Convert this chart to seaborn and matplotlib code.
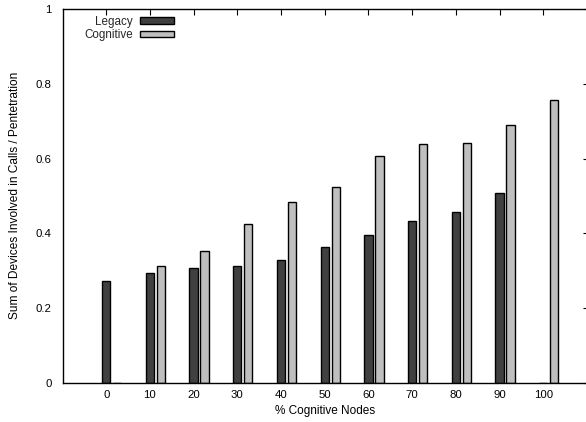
import matplotlib
matplotlib.use("Agg")
import matplotlib.pyplot as plt
import seaborn as sns
import pandas as pd
from matplotlib.ticker import FuncFormatter, MultipleLocator

# Share of cognitive nodes in the network (%)
pct_cognitive = [0, 10, 20, 30, 40, 50, 60, 70, 80, 90, 100]
# Sum of devices involved in calls divided by penetration
legacy = [0.273, 0.295, 0.308, 0.313, 0.330, 0.364, 0.397, 0.432, 0.456, 0.507, 0.0]
cognitive = [0.0, 0.313, 0.354, 0.425, 0.485, 0.525, 0.608, 0.638, 0.641, 0.690, 0.757]
series_names = ["Legacy", "Cognitive"]
series_colors = ["#404040", "#bfbfbf"]

# horizontal shift of the second series relative to the first
pair_offset = 2.5
bar_width = 0.19  # fraction of the 10-unit category spacing

sns.set_theme(style="white")
plt.rcParams["font.family"] = ["Liberation Sans", "DejaVu Sans"]

fig = plt.figure(figsize=(5.86, 4.22), dpi=100)
W, H = 586, 422
left_px, right_px, top_px, bottom_px = 62.5, 588.5, 9, 383
ax = fig.add_axes([left_px / W, (H - bottom_px) / H,
                   (right_px - left_px) / W, (bottom_px - top_px) / H])

df_leg = pd.DataFrame({"pos": pct_cognitive, "value": legacy})
df_cog = pd.DataFrame({"pos": [p + pair_offset for p in pct_cognitive], "value": cognitive})

for df, name, color in zip([df_leg, df_cog], series_names, series_colors):
    sns.barplot(data=df, x="pos", y="value", native_scale=True, width=bar_width,
                color=color, edgecolor="black", linewidth=1.0, saturation=1,
                label=name, ax=ax, errorbar=None)

ax.set_xlim(-10, 110 + 1.5 / 4.37)
ax.set_ylim(0, 1)
ax.set_xticks(pct_cognitive)
ax.xaxis.set_major_formatter(FuncFormatter(lambda v, p: f"{v:g}"))
ax.yaxis.set_major_locator(MultipleLocator(0.2))
ax.yaxis.set_major_formatter(FuncFormatter(lambda v, p: f"{v:g}"))

for s in ax.spines.values():
    s.set_visible(True)
    s.set_color("black")
    s.set_linewidth(1.0)

ax.tick_params(axis="both", which="major", direction="in", length=4.5, width=0.8,
               colors="black", labelsize=8.2, top=True, right=True)
ax.tick_params(axis="y", pad=8)
ax.tick_params(axis="x", pad=5)

span_x = right_px - left_px
span_y = bottom_px - top_px
ax.set_xlabel("% Cognitive Nodes", fontsize=8.5, color="black")
ax.xaxis.set_label_coords((325 - left_px) / span_x, (bottom_px - 411) / span_y)
ax.xaxis.label.set_va("center")
ax.set_ylabel("Sum of Devices Involved in Calls / Pentetration", fontsize=8.55, color="black")
ax.yaxis.label.set_va("center")
ax.yaxis.set_label_coords((15 - left_px) / span_x, (bottom_px - 195.5) / span_y)

handles, labels = ax.get_legend_handles_labels()
fs = 8.4 * 100 / 72
leg = ax.legend(handles, labels, loc="upper left",
                bbox_to_anchor=(84 / W, 1 - 15.5 / H), bbox_transform=fig.transFigure,
                frameon=False, markerfirst=False, fontsize=8.4,
                handlelength=34 / fs, handleheight=5.5 / fs, handletextpad=7 / fs,
                labelspacing=0.12, borderpad=0, borderaxespad=0)

fig.savefig("out.png", dpi=100)
